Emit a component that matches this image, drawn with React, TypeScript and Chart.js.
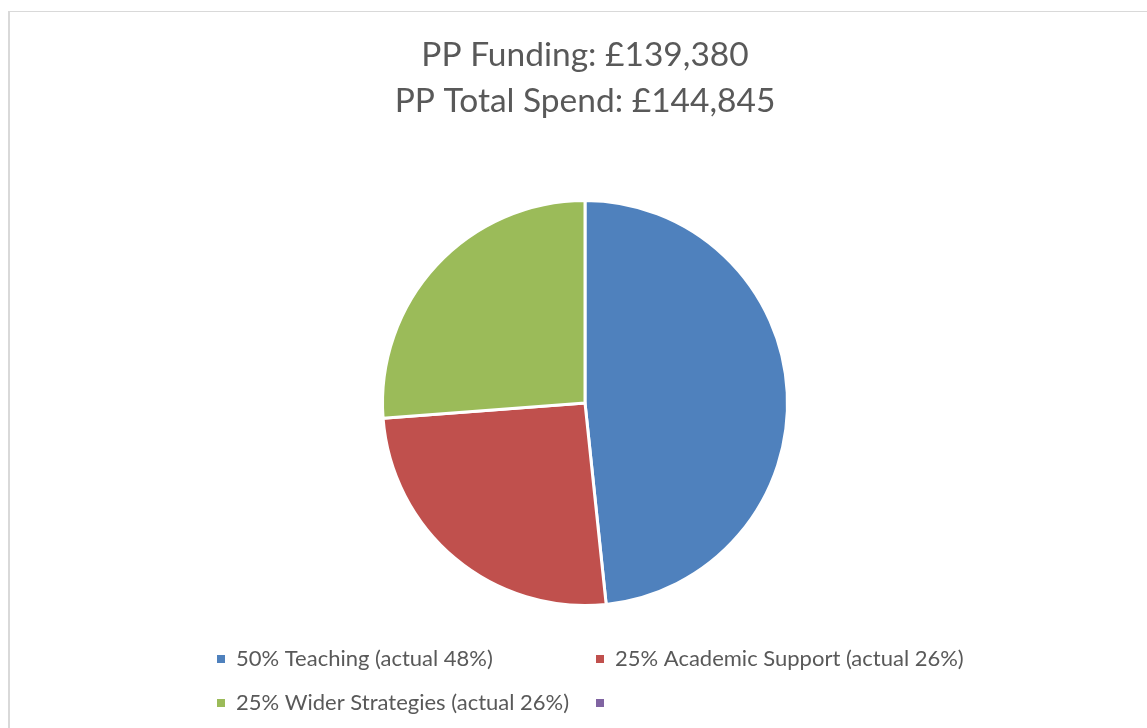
import React, { useEffect, useRef } from "react";
import { Chart, registerables } from "chart.js";

Chart.register(...registerables);

const categories = [
  "50% Teaching (actual 48%)",
  "25% Academic Support (actual 26%)",
  "25% Wider Strategies (actual 26%)",
  "",
];
const spendValues = [70008, 36897, 37940, 0];
const sliceColors = ["#4F81BD", "#C0504D", "#9BBB59", "#8064A2"];
const titleLines = ["PP Funding: £139,380", "PP Total Spend: £144,845"];

const FONT = "Lato, 'Open Sans', sans-serif";
const TEXT_COLOR = "#595959";

const gridLegend = {
  id: "gridLegend",
  afterDraw(chart: any) {
    const ctx = chart.ctx;
    const labels: string[] = chart.data.labels;
    const colors: string[] = chart.data.datasets[0].backgroundColor;
    const cols = [217, 596];
    const rows = [659, 703];
    ctx.save();
    ctx.font = `22px ${FONT}`;
    ctx.textBaseline = "middle";
    ctx.textAlign = "left";
    labels.forEach((lab, i) => {
      const x = cols[i % 2];
      const y = rows[Math.floor(i / 2)];
      ctx.fillStyle = colors[i];
      ctx.fillRect(x, y - 4, 8, 8);
      ctx.fillStyle = TEXT_COLOR;
      ctx.fillText(lab, x + 19, y);
    });
    ctx.restore();
  },
};

export default function App() {
  const ref = useRef<HTMLCanvasElement | null>(null);
  useEffect(() => {
    if (!ref.current) return;
    const chart = new Chart(ref.current, {
      type: "pie",
      data: {
        labels: categories,
        datasets: [
          {
            data: spendValues,
            backgroundColor: sliceColors,
            borderColor: "#ffffff",
            borderWidth: 3,
          },
        ],
      },
      options: {
        animation: false,
        responsive: true,
        maintainAspectRatio: false,
        layout: { padding: { top: 0, bottom: 121, left: 100, right: 77 } },
        plugins: {
          legend: { display: false },
          tooltip: { enabled: false },
          title: {
            display: true,
            text: titleLines,
            color: TEXT_COLOR,
            font: { family: FONT, size: 33.5, weight: "normal", lineHeight: 46 / 33.5 },
            padding: { top: 32, bottom: 75 },
          },
        },
      },
      plugins: [gridLegend],
    });
    return () => chart.destroy();
  }, []);

  return (
    <div
      style={{
        position: "fixed",
        left: 0,
        top: 0,
        width: 1147,
        height: 728,
        overflow: "hidden",
        background: "#ffffff",
      }}
    >
      <div
        style={{
          position: "absolute",
          left: 8,
          top: 11,
          width: 1300,
          height: 900,
          borderLeft: "2px solid #d9d9d9",
          borderTop: "1px solid #d9d9d9",
        }}
      />
      <div style={{ position: "absolute", left: 0, top: 0, width: 1147, height: 728 }}>
        <canvas ref={ref} />
      </div>
    </div>
  );
}
